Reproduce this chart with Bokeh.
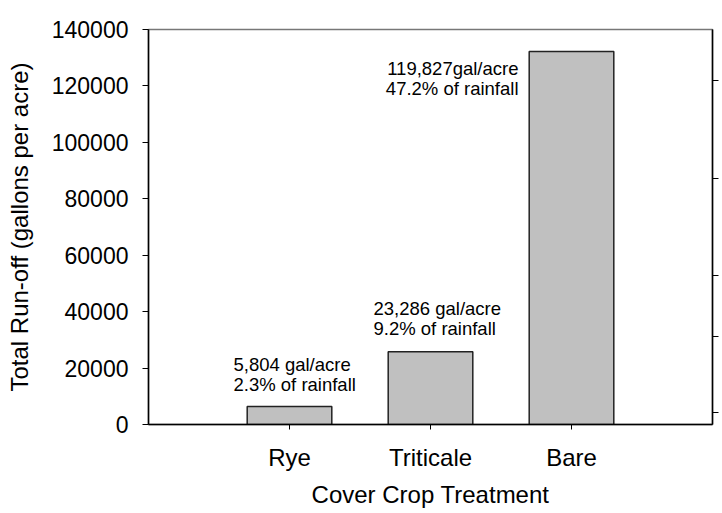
from bokeh.plotting import figure
from bokeh.models import FactorRange, Range1d, LinearAxis, FixedTicker, BasicTickFormatter
from bokeh.core.properties import value
from bokeh.embed import file_html
from bokeh.resources import INLINE

treatments = ["Rye", "Triticale", "Bare"]
runoff = [6400, 25800, 132200]
label_volume = ["5,804 gal/acre", "23,286 gal/acre", "119,827gal/acre"]
label_share = ["2.3% of rainfall", "9.2% of rainfall", "47.2% of rainfall"]
y_ticks = [0, 20000, 40000, 60000, 80000, 100000, 120000, 140000]
right_ticks = [4300, 31200, 52800, 87200, 121900]

FONT = "Liberation Sans"

p = figure(width=722, height=513,
           x_range=FactorRange(*treatments, range_padding=1/3),
           y_range=Range1d(0, 140000),
           output_backend="svg", toolbar_location=None,
           min_border_left=148, min_border_top=29, min_border_right=10, min_border_bottom=89)

p.vbar(x=treatments, top=runoff, width=0.6, fill_color="#c0c0c0",
       line_color="#222222", line_width=1.5)

p.xgrid.visible = False
p.ygrid.visible = False
p.outline_line_color = "#777777"
p.outline_line_width = 1.5
p.background_fill_color = "white"
p.border_fill_color = "white"

# x axis
xa = p.xaxis[0]
xa.axis_label = "Cover Crop Treatment"
xa.axis_label_text_font = FONT
xa.axis_label_text_font_style = "normal"
xa.axis_label_text_font_size = "24px"
xa.axis_label_text_color = "black"
xa.axis_label_standoff = 7
xa.major_label_text_font = FONT
xa.major_label_text_font_size = "24px"
xa.major_label_text_color = "black"
xa.major_label_standoff = 14
xa.major_tick_out = 5
xa.major_tick_in = 0
xa.minor_tick_out = 0
xa.axis_line_width = 1.5
xa.axis_line_color = "black"
xa.major_tick_line_color = "black"

# y axis
ya = p.yaxis[0]
ya.ticker = FixedTicker(ticks=y_ticks)
ya.formatter = BasicTickFormatter(use_scientific=False)
ya.axis_label = "Total Run-off (gallons per acre)"
ya.axis_label_text_font = FONT
ya.axis_label_text_font_style = "normal"
ya.axis_label_text_font_size = "24px"
ya.axis_label_text_color = "black"
ya.axis_label_standoff = 16
ya.major_label_text_font = FONT
ya.major_label_text_font_size = "23px"
ya.major_label_text_color = "black"
ya.major_label_standoff = 14
ya.major_tick_out = 6
ya.major_tick_in = 0
ya.minor_tick_out = 0
ya.minor_tick_in = 0
ya.axis_line_width = 1.5
ya.axis_line_color = "black"
ya.major_tick_line_color = "black"

# right axis (ticks only)
ra = LinearAxis(ticker=FixedTicker(ticks=right_ticks),
                major_label_overrides={t: "" for t in right_ticks},
                major_label_text_font_size="0px", major_label_standoff=0,
                major_tick_out=6, major_tick_in=0, minor_tick_out=0, minor_tick_in=0,
                axis_line_width=1.5, axis_line_color="black", major_tick_line_color="black")
p.add_layout(ra, "right")

# annotations
offsets = [(-56, -42, -22, "left"), (-57, -43, -23, "left"), (-53, 17, 37, "right")]
for i, (dx, dy1, dy2, align) in enumerate(offsets):
    for txt, dy in ((label_volume[i], dy1), (label_share[i], dy2)):
        p.text(x=[treatments[i]], y=[runoff[i]], text=[txt], x_offset=dx, y_offset=dy,
               text_font=value(FONT), text_font_size="18.5px", text_color="black",
               text_align=align, text_baseline="alphabetic")

open("out.html", "w").write(file_html(p, INLINE))
